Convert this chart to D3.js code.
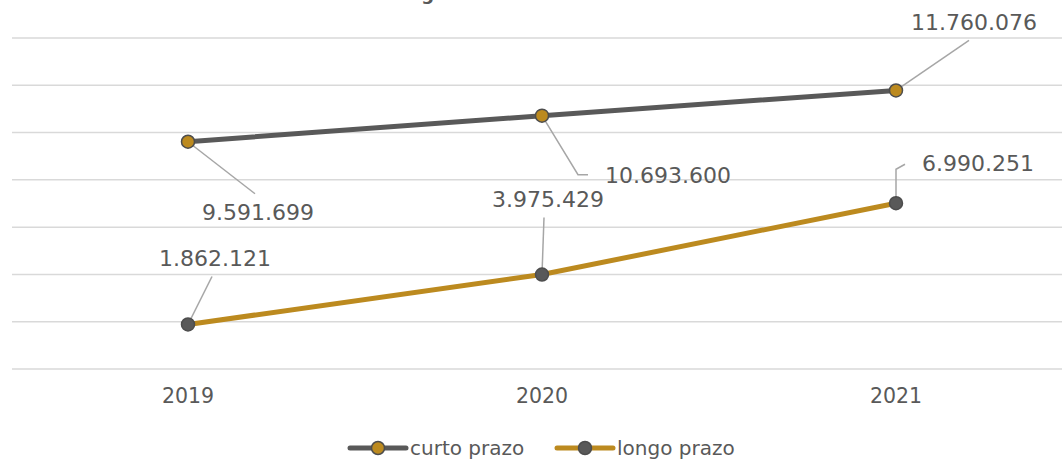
<!DOCTYPE html>
<html>
<head>
<meta charset="utf-8">
<script src="https://cdn.jsdelivr.net/npm/d3@7"></script>
<style>
  body { margin: 0; background: #fff; }
  svg { display: block; }
  .grid line { stroke: #d9d9d9; stroke-width: 1.5; }
  .grid path { display: none; }
  text { font-family: "DejaVu Sans", sans-serif; fill: #595959; }
</style>
</head>
<body>
<svg id="canvas" width="1062" height="460"></svg>
<script>
// chart data
var years = ['2019', '2020', '2021'];
var curtoPrazo = [9591699, 10693600, 11760076];
var longoPrazo = [1862121, 3975429, 6990251];
var seriesNames = ['curto prazo', 'longo prazo'];
var yTicks = [0, 2000000, 4000000, 6000000, 8000000, 10000000, 12000000, 14000000];

var canvas = d3.select('#canvas');
var width = +canvas.attr('width');
var height = +canvas.attr('height');

var dark = '#595959';
var gold = '#bc8a1f';

// labels use dots as thousands separator
var fmt = d3.formatLocale({ decimal: ',', thousands: '.', grouping: [3], currency: ['', ''] }).format(',d');

var xScale = d3.scalePoint().domain(years).range([188, 896]);
var yScale = d3.scaleLinear().domain([0, 14000000]).range([368.5, 37.5]);

// title, mostly cut off at the top of the picture
var title = canvas.append('text')
  .attr('y', -0.5)
  .style('font-size', '18px')
  .style('font-weight', 'bold')
  .text('Endividamento geral');
var pre = canvas.append('text').style('font-size', '18px').style('font-weight', 'bold').text('Endividamento ');
var preLen = pre.node().getComputedTextLength();
pre.remove();
title.attr('x', 415 - preLen);

// horizontal gridlines
canvas.append('g')
  .attr('class', 'grid')
  .attr('transform', 'translate(12,0)')
  .call(d3.axisRight(yScale).tickValues(yTicks).tickSize(width - 12).tickFormat(''));

// year labels
canvas.selectAll('.year')
  .data(years)
  .enter()
  .append('text')
  .attr('x', function(d) { return xScale(d); })
  .attr('y', 403)
  .attr('text-anchor', 'middle')
  .style('font-size', '20.5px')
  .text(function(d) { return d; });

var line = d3.line()
  .x(function(d, i) { return xScale(years[i]); })
  .y(function(d) { return yScale(d); });

var series = [
  { name: seriesNames[0], values: curtoPrazo, stroke: dark, marker: gold },
  { name: seriesNames[1], values: longoPrazo, stroke: gold, marker: dark }
];

// label offsets (text baseline relative to the point) and leader line bends
var labelLayout = [
  [ { lx: 70, ly: 78, path: [[0, 0], [67, 52]] },
    { lx: 126, ly: 67, path: [[0, 0], [36, 59], [46, 59]] },
    { lx: 78, ly: -60, path: [[0, 0], [73, -50]] } ],
  [ { lx: 27, ly: -58, path: [[0, 0], [24, -48]] },
    { lx: 6, ly: -68, path: [[0, 0], [2, -57]] },
    { lx: 82, ly: -32, path: [[0, 0], [0, -34], [9, -39]] } ]
];

series.forEach(function(s, si) {
  // leader lines first so markers sit on top
  s.values.forEach(function(v, i) {
    var px = xScale(years[i]), py = yScale(v);
    var lay = labelLayout[si][i];
    canvas.append('path')
      .attr('d', d3.line()(lay.path.map(function(p) { return [px + p[0], py + p[1]]; })))
      .style('fill', 'none')
      .style('stroke', '#a6a6a6')
      .style('stroke-width', 1.5);
  });

  canvas.append('path')
    .datum(s.values)
    .attr('d', line)
    .style('fill', 'none')
    .style('stroke', s.stroke)
    .style('stroke-width', 5);
});

series.forEach(function(s, si) {
  canvas.selectAll('.m' + si)
    .data(s.values)
    .enter()
    .append('circle')
    .attr('cx', function(d, i) { return xScale(years[i]); })
    .attr('cy', function(d) { return yScale(d); })
    .attr('r', 6.5)
    .style('fill', s.marker)
    .style('stroke', '#4d4d4d')
    .style('stroke-width', 1.5);

  canvas.selectAll('.l' + si)
    .data(s.values)
    .enter()
    .append('text')
    .attr('x', function(d, i) { return xScale(years[i]) + labelLayout[si][i].lx; })
    .attr('y', function(d, i) { return yScale(d) + labelLayout[si][i].ly; })
    .attr('text-anchor', 'middle')
    .style('font-size', '22px')
    .text(function(d) { return fmt(d); });
});

// legend
var legendX = [350, 557];
var legend = canvas.selectAll('.legend')
  .data(series)
  .enter()
  .append('g')
  .attr('transform', function(d, i) { return 'translate(' + legendX[i] + ',448)'; });

legend.append('line')
  .attr('x1', 0).attr('x2', 56)
  .style('stroke', function(d) { return d.stroke; })
  .style('stroke-width', 5)
  .style('stroke-linecap', 'round');

legend.append('circle')
  .attr('cx', 28)
  .attr('r', 6.5)
  .style('fill', function(d) { return d.marker; })
  .style('stroke', '#4d4d4d')
  .style('stroke-width', 1.5);

legend.append('text')
  .attr('x', 60)
  .attr('y', 7)
  .style('font-size', '20px')
  .text(function(d) { return d.name; });
</script>
</body>
</html>
